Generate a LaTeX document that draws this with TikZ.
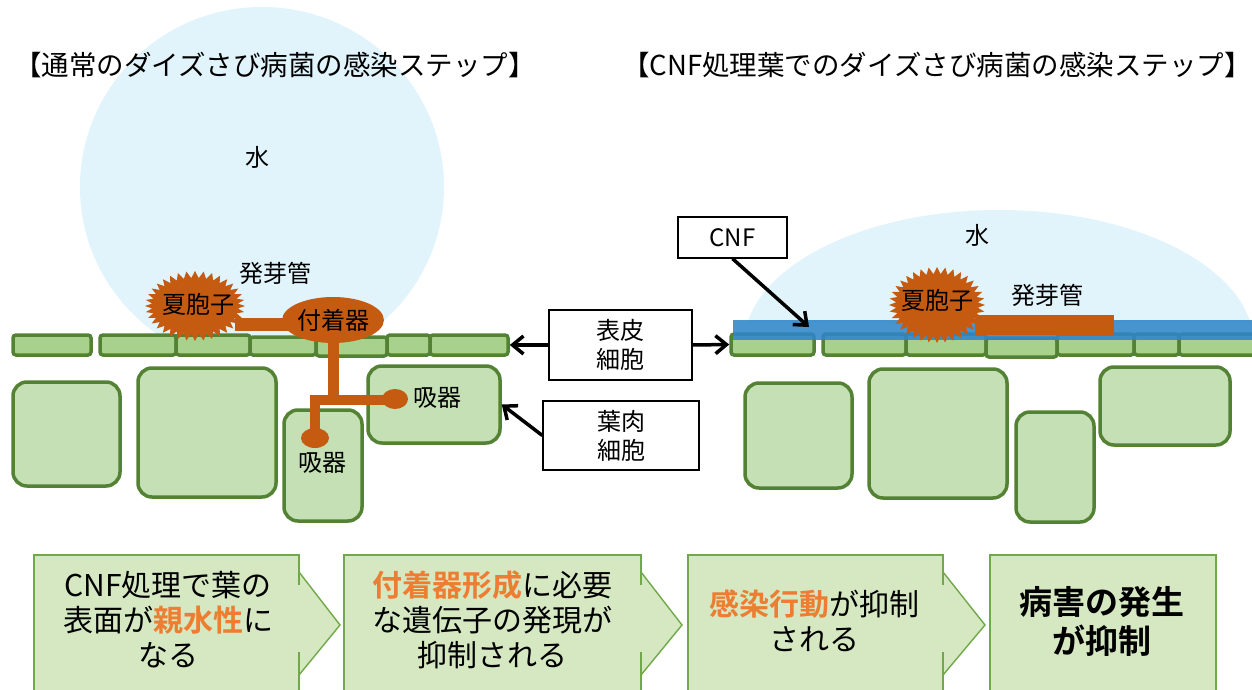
\documentclass[tikz,border=0pt]{standalone}
\usepackage{fontspec}
\setmainfont{Noto Sans CJK JP}[BoldFont={Noto Sans CJK JP Bold}]
\usetikzlibrary{arrows.meta,shapes.geometric}

\definecolor{water}{HTML}{E1F4FB}
\definecolor{epifill}{HTML}{A9D18E}
\definecolor{mesofill}{HTML}{C5E0B4}
\definecolor{cellline}{HTML}{548235}
\definecolor{fungus}{HTML}{C55A11}
\definecolor{cnfblue}{HTML}{2E86C8}
\definecolor{stepfill}{HTML}{D5E8C2}
\definecolor{stepline}{HTML}{70A84A}
\definecolor{accent}{HTML}{ED7D31}

\tikzset{
  epicell/.style={draw=cellline, fill=epifill, line width=3.5pt, rounded corners=3pt, inner sep=0pt},
  mesocell/.style={draw=cellline, fill=mesofill, line width=3.5pt, rounded corners=14pt, inner sep=0pt},
  labelbox/.style={draw=black, fill=white, line width=1.3pt, inner sep=0pt, align=center,
    font=\fontsize{24}{29}\selectfont},
  plain/.style={inner sep=0pt, font=\fontsize{24}{29}\selectfont},
  titletext/.style={inner sep=0pt, font=\fontsize{27.5}{32}\selectfont},
  flowtext/.style={inner sep=0pt, align=center, font=\fontsize{30}{35}\selectfont},
  pointer/.style={-{Straight Barb[length=11pt,width=18pt]}, line width=3.5pt, black},
  flowfill/.style={fill=stepfill},
  flowline/.style={draw=stepline, line width=1.4pt},
}

% cell as a node: style, name, x1, y1, x2, y2
\newcommand\cellbox[6]{%
  \pgfmathsetmacro\cellw{#5-#3}\pgfmathsetmacro\cellh{#6-#4}%
  \node[#1, minimum width=\cellw pt, minimum height=\cellh pt] (#2) at ({(#3+#5)/2},{(#4+#6)/2}) {};}

% starburst spore: centre x, centre y, x radius, y radius
\newcommand\sporeburst[4]{%
  \fill[fungus] ({#1+#3},#2) \foreach \k in {1,...,71}{
    -- ({#1+(#3-7*mod(\k,2))*cos(5*\k)},{#2+(#4-7*mod(\k,2))*sin(5*\k)}) } -- cycle;}

% flow step: left, right, tip (tip = right gives a plain box)
\newcommand\flowstep[3]{%
  \fill[flowfill] (#1,555) -- (#2,555) -- (#2,572) -- (#3,625) -- (#2,675) -- (#2,700) -- (#1,700) -- cycle;
  \draw[flowline] (#2,585) -- (#2,555) -- (#1,555) -- (#1,700) -- (#2,700) -- (#2,652);
  \draw[flowline] (#2,572) -- (#3,625) -- (#2,675);}

\begin{document}
\begin{tikzpicture}[x=1pt,y=-1pt]
\clip (0,0) rectangle (1252,690);
\fill[white] (0,0) rectangle (1252,690);

% ---------- water drops ----------
\begin{scope}
  \clip (0,0) rectangle (700,341);
  \fill[water] (262,187) ellipse [x radius=182, y radius=180];
\end{scope}
\begin{scope}
  \clip (700,0) rectangle (1252,322);
  \fill[water] (999,345) ellipse [x radius=255, y radius=135];
\end{scope}
\node[plain] (waterL) at (257,157) {水};
\node[plain] (waterR) at (977,235) {水};

% ---------- titles ----------
\node[titletext] (titleL) at (275,65) {【通常のダイズさび病菌の感染ステップ】};
\node[titletext] (titleR) at (937,65) {【CNF処理葉でのダイズさび病菌の感染ステップ】};

% ---------- left leaf: epidermis ----------
\cellbox{epicell}{le1}{13}{335}{91}{355}
\cellbox{epicell}{le2}{100}{335}{176}{355}
\cellbox{epicell}{le3}{176}{335}{250}{355}
\cellbox{epicell}{le4}{250}{337}{316}{355}
\cellbox{epicell}{le5}{316}{337}{387}{356}
\cellbox{epicell}{le6}{387}{335}{430}{355}
\cellbox{epicell}{le7}{430}{335}{508}{355}
% left leaf: mesophyll
\cellbox{mesocell}{lm1}{13}{382}{120}{486}
\cellbox{mesocell}{lm2}{138}{368}{276}{497}
\cellbox{mesocell}{lm3}{284}{410}{362}{521}
\cellbox{mesocell}{lm4}{368}{366}{500}{443}

% ---------- left leaf: fungus ----------
\fill[fungus] (235,318) rectangle (305,331);
\sporeburst{195}{306}{50}{35}
\fill[fungus] (328,330) rectangle (339,405);
\fill[fungus] (310,395) rectangle (390,405);
\fill[fungus] (310,395) rectangle (320,438);
\fill[fungus] (395,399) ellipse [x radius=13, y radius=10];
\fill[fungus] (315,438) ellipse [x radius=14, y radius=10];
\node[fill=fungus, ellipse, minimum width=72pt, minimum height=46pt, inner sep=0pt,
      font=\fontsize{24}{29}\selectfont] (appr) at (333,320) {付着器};
\node[plain] (sporeL) at (198,304) {夏胞子};
\node[plain] (tubeL) at (275,273) {発芽管};
\node[plain] (haustA) at (437,398) {吸器};
\node[plain] (haustB) at (322,463) {吸器};

% ---------- right leaf: epidermis ----------
\cellbox{epicell}{re1}{731}{334}{814}{355}
\cellbox{epicell}{re2}{823}{334}{906}{355}
\cellbox{epicell}{re3}{906}{334}{986}{355}
\cellbox{epicell}{re4}{986}{338}{1057}{357}
\cellbox{epicell}{re5}{1057}{334}{1134}{355}
\cellbox{epicell}{re6}{1134}{334}{1179}{355}
\cellbox{epicell}{re7}{1179}{334}{1264}{355}
% right leaf: mesophyll
\cellbox{mesocell}{rm1}{745}{383}{852}{488}
\cellbox{mesocell}{rm2}{869}{369}{1007}{498}
\cellbox{mesocell}{rm3}{1016}{412}{1094}{522}
\cellbox{mesocell}{rm4}{1100}{367}{1230}{445}

% CNF coating over the epidermis
\node[fill=cnfblue, opacity=0.88, minimum width=530pt, minimum height=20pt, inner sep=0pt]
  (cnflayer) at (998,330) {};
\coordinate (cnfpt) at (809,327);

% ---------- right leaf: fungus ----------
\fill[fungus] (975,315) rectangle (1114,335);
\sporeburst{937}{305}{48}{38}
\node[plain] (sporeR) at (937,300) {夏胞子};
\node[plain] (tubeR) at (1047,295) {発芽管};

% ---------- labels and pointers ----------
\node[labelbox, minimum width=109pt, minimum height=41pt] (cnf) at (732.5,237.5) {CNF};
\node[labelbox, minimum width=143pt, minimum height=70pt] (epi) at (620.5,345) {表皮\\細胞};
\node[labelbox, minimum width=156pt, minimum height=69pt] (meso) at (621,435.5) {葉肉\\細胞};
\draw[pointer] (cnf.south) -- (cnfpt);
\draw[pointer] (epi.west) -- (le7.east);
\draw[pointer] (epi.east) -- (re1.west);
\draw[pointer] (meso.west) -- (lm4.east);

% ---------- flow of effects ----------
\flowstep{34}{299}{340}
\flowstep{344}{641}{682}
\flowstep{688}{943}{985}
\flowstep{990}{1216}{1216}
\node[flowtext] (flow1) at (168,620) {CNF処理で葉の\\表面が{\bfseries\color{accent}親水性}に\\なる};
\node[flowtext] (flow2) at (492,620) {{\bfseries\color{accent}付着器形成}に必要\\な遺伝子の発現が\\抑制される};
\node[flowtext] (flow3) at (814,620.5) {{\bfseries\color{accent}感染行動}が抑制\\される};
\node[flowtext, font=\fontsize{33}{39}\selectfont\bfseries] (flow4) at (1102,621) {病害の発生\\が抑制};
\end{tikzpicture}
\end{document}
